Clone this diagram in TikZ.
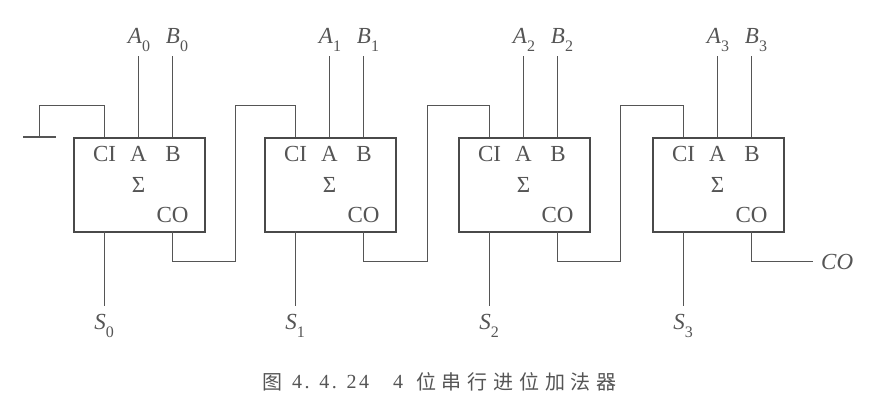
\documentclass[tikz,border=0pt]{standalone}
\usepackage{fontspec}
\setmainfont{Liberation Serif}
\newfontfamily\cjk{Noto Sans CJK SC}
\definecolor{ink}{HTML}{555555}
\definecolor{boxink}{HTML}{4A4A4A}
\tikzset{x=1pt,y=-1pt,
 adder/.style={draw=boxink,line width=1.9pt,minimum width=131pt,minimum height=94pt,inner sep=0pt,anchor=north west},
 wire/.style={draw=ink,line width=1.2pt},
 gnd/.style={draw=ink,line width=1.4pt},
 pin/.style={text=ink,font=\fontsize{23}{23}\selectfont,inner sep=0pt},
 sig/.style={text=ink,font=\fontsize{23}{23}\selectfont\itshape,inner sep=0pt},
 captext/.style={text=ink,font=\fontsize{20}{20}\selectfont,inner sep=0pt,anchor=west}}
\newcommand{\subs}[1]{\raisebox{-0.35em}{\fontsize{16}{16}\selectfont\upshape#1}}
\newcommand{\stage}[2]{%
 \node[adder] (u#1) at (#2,137) {};
 \coordinate (ci#1) at (#2+31.5,137);
 \coordinate (a#1) at (#2+65.5,137);
 \coordinate (b#1) at (#2+99.5,137);
 \coordinate (so#1) at (#2+31.5,231);
 \coordinate (co#1) at (#2+99.5,231);
 \coordinate (up#1) at (#2+31.5,105.5);
 \node[pin] (lci#1) at (#2+31.5,153.5) {CI};
 \node[pin] (la#1) at (#2+65.5,153.5) {A};
 \node[pin] (lb#1) at (#2+100,153.5) {B};
 \node[pin] (ls#1) at (#2+65.5,185) {Σ};
 \node[pin] (lco#1) at (#2+99.5,215) {CO};
 \node[sig] (na#1) at (#2+66,40) {A\subs{#1}};
 \node[sig] (nb#1) at (#2+104,40) {B\subs{#1}};
 \node[sig] (ns#1) at (#2+31,326) {S\subs{#1}};
 \coordinate (ta#1) at (#2+65.5,56);
 \coordinate (tb#1) at (#2+99.5,56);
 \coordinate (bs#1) at (#2+31.5,306);
 \draw[wire] (ta#1) -- (a#1);
 \draw[wire] (tb#1) -- (b#1);
 \draw[wire] (so#1) -- (bs#1);
}
\begin{document}
\begin{tikzpicture}
\useasboundingbox (0,0) rectangle (879,413);
\fill[white] (0,0) rectangle (879,413);
\stage{0}{73}
\stage{1}{264}
\stage{2}{458}
\stage{3}{652}
% ground
\coordinate (gl) at (23,137);
\coordinate (gr) at (56,137);
\coordinate (gm) at (39.5,137);
\draw[gnd] (gl) -- (gr);
\draw[wire] (gm) |- (up0) -- (ci0);
% carries
\coordinate (j0) at (235.5,261.5);
\coordinate (j1) at (427.5,261.5);
\coordinate (j2) at (620.5,261.5);
\draw[wire] (co0) |- (j0) |- (up1) -- (ci1);
\draw[wire] (co1) |- (j1) |- (up2) -- (ci2);
\draw[wire] (co2) |- (j2) |- (up3) -- (ci3);
\node[sig,anchor=west] (cout) at (821,262) {CO};
\coordinate (cend) at (813,261.5);
\draw[wire] (co3) |- (cend);
\node[captext] (capfig) at (262,382) {\cjk 图};
\node[captext] (capnum) at (292,382) {\addfontfeature{LetterSpace=12}4. 4. 24};
\node[captext] (capfour) at (393,382) {4};
\node[captext] (captitle) at (416,382) {\cjk\addfontfeature{LetterSpace=29}位串行进位加法器};
\end{tikzpicture}
\end{document}
